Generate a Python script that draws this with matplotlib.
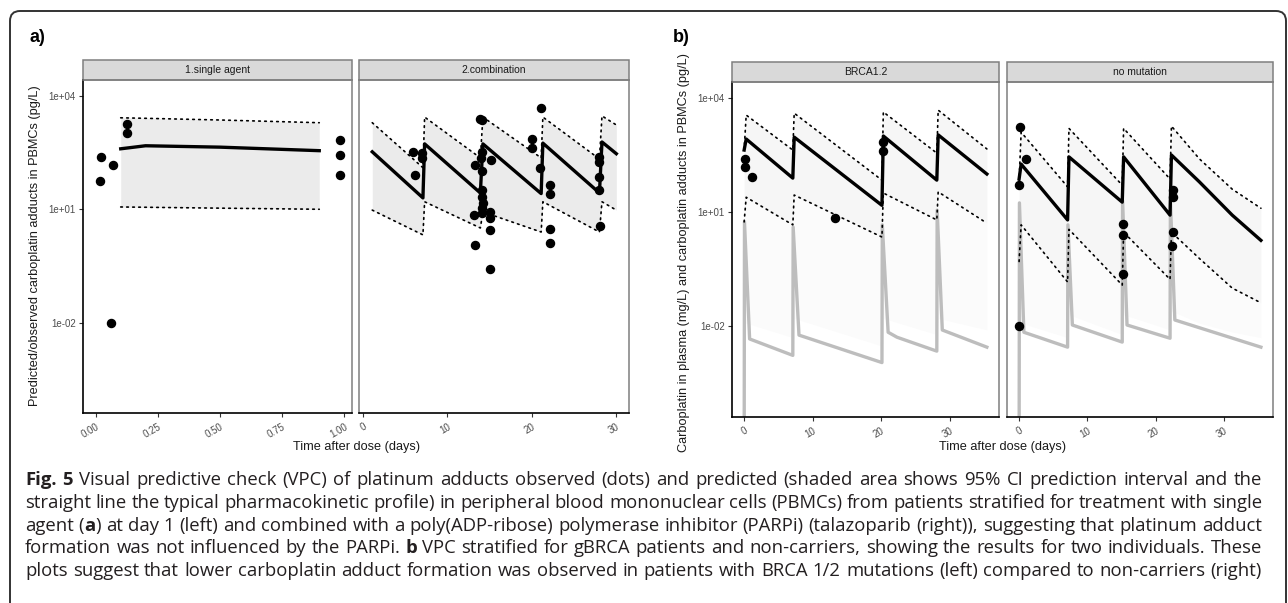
import numpy as np
import matplotlib
matplotlib.use('Agg')
import matplotlib.pyplot as plt
from matplotlib.patches import Rectangle, FancyBboxPatch
from matplotlib.ticker import NullLocator

# ---- panel a: single agent (time in days, adducts pg/L) ----
a1_obs_t = [0.02, 0.017, 0.068, 0.125, 0.125, 0.06, 0.984, 0.984, 0.984]
a1_obs_y = [245, 56, 148, 1800, 1050, 0.01, 690, 275, 81]
a1_pred_t = [0.1, 0.2, 0.5, 0.9]
a1_med = [398, 479, 440, 355]
a1_hi = [2630, 2550, 2300, 1950]
a1_lo = [11.5, 11.3, 10.7, 10.0]

# ---- panel a: combination ----
a2_pred_t = [1.1, 7.1, 7.3, 13.9, 14.2, 21.1, 21.3, 28.0, 28.3, 30.0]
a2_med = [331, 20, 537, 27, 537, 26, 562, 27, 603, 295]
a2_hi = [1950, 126, 2750, 229, 2750, 229, 2750, 214, 2950, 1700]
a2_lo = [9.5, 2.1, 15.8, 3.2, 8.5, 2.5, 15.8, 2.5, 15.8, 9.5]
a2_obs_t = [5.9, 6.2, 7.0, 7.0, 13.3, 13.1, 13.3, 13.9, 14.1, 14.1, 14.0, 14.1,
            14.1, 14.1, 14.2, 14.1, 14.1, 15.2, 15.1, 15.1, 15.1, 15.0, 21.1,
            20.0, 20.0, 21.0, 22.2, 22.2, 22.2, 22.1, 28.0, 28.0, 28.0, 27.9, 28.1]
a2_obs_y = [331, 81, 309, 229, 148, 7.1, 1.15, 2455, 2344, 331, 229, 100,
            32, 21, 15, 11, 7.9, 204, 8.5, 5.9, 2.9, 0.26, 4790,
            724, 417, 126, 45, 26, 3.0, 1.3, 245, 178, 72, 32, 3.6]

# ---- panel b: BRCA1.2 ----
b1_pred_t = [0.0, 0.3, 7.1, 7.3, 20.1, 20.3, 28.1, 28.3, 35.4]
b1_med = [427, 832, 78, 933, 15, 1000, 69, 1070, 100]
b1_hi = [427, 3550, 427, 3980, 69, 4270, 355, 4790, 457]
b1_lo = [5.5, 24.5, 4.6, 28, 2.2, 31.6, 6.2, 33.9, 5.1]
b1_haze = [0.012, 0.012, 0.005, 0.016, 0.003, 0.016, 0.006, 0.016, 0.008]
b1_pl_t = [0.0, 0.05, 0.8, 7.1, 7.15, 8.0, 20.1, 20.15, 21.0, 22.3, 28.1, 28.15, 28.9, 35.4]
b1_pl = [1e-6, 5.5, 0.0046, 0.0017, 4.0, 0.0058, 0.0011, 4.6, 0.0069, 0.0051,
         0.0022, 11.2, 0.0079, 0.0028]
b1_obs_t = [0.1, 0.1, 1.1, 13.2, 20.3, 20.3]
b1_obs_y = [245, 151, 83, 6.9, 692, 398]

# ---- panel b: no mutation ----
b2_pred_t = [0.0, 0.3, 7.1, 7.3, 15.1, 15.3, 22.1, 22.3, 26.4, 31.2, 35.4]
b2_med = [74, 182, 6.2, 282, 18.2, 282, 8.3, 316, 62, 8.3, 1.8]
b2_hi = [63, 1260, 46, 1585, 51, 1585, 74, 1820, 250, 40, 12.6]
b2_lo = [0.5, 4.6, 0.145, 3.5, 0.12, 2.95, 0.17, 2.95, 0.6, 0.1, 0.041]
b2_haze = [0.01, 0.012, 0.005, 0.02, 0.006, 0.02, 0.008, 0.025, 0.012, 0.007, 0.005]
b2_pl_t = [0.0, 0.05, 0.7, 7.1, 7.15, 7.8, 15.1, 15.15, 15.8, 22.1, 22.15, 22.8, 35.4]
b2_pl = [1e-6, 17.4, 0.0069, 0.0028, 4.6, 0.0107, 0.0038, 20, 0.0107, 0.0048,
         20, 0.0145, 0.0028]
b2_obs_t = [0.1, 1.0, 0.0, 0.0, 15.2, 15.2, 15.2, 22.5, 22.5, 22.5, 22.4]
b2_obs_y = [1740, 245, 51, 0.01, 4.8, 2.45, 0.23, 38, 24.5, 2.95, 1.26]

y_ticks = [1e-2, 1e1, 1e4]
y_ticklabels = ['1e-02', '1e+01', '1e+04']

caption = [
    "**Fig. 5** Visual predictive check (VPC) of platinum adducts observed (dots) and predicted (shaded area shows 95% CI prediction interval and the",
    "straight line the typical pharmacokinetic profile) in peripheral blood mononuclear cells (PBMCs) from patients stratified for treatment with single",
    "agent (**a**) at day 1 (left) and combined with a poly(ADP-ribose) polymerase inhibitor (PARPi) (talazoparib (right)), suggesting that platinum adduct",
    "formation was not influenced by the PARPi. **b** VPC stratified for gBRCA patients and non-carriers, showing the results for two individuals. These",
    "plots suggest that lower carboplatin adduct formation was observed in patients with BRCA 1/2 mutations (left) compared to non-carriers (right)",
]

W, H = 1288, 603
plt.rcParams['font.family'] = ['Liberation Sans', 'DejaVu Sans']
fig = plt.figure(figsize=(W / 100, H / 100), dpi=100)

GREY = '#7f7f7f'
DOT = (0, (1, 2.6))


def facet(x0, y0, x1, y1, strip_top, title, xlim, xticks, xlabels, first):
    ax = fig.add_axes([x0 / W, 1 - y1 / H, (x1 - x0) / W, (y1 - y0) / H])
    ax.set_yscale('log')
    ax.set_ylim(10 ** -4.39, 10 ** 4.42)
    ax.set_xlim(xlim)
    ax.yaxis.set_minor_locator(NullLocator())
    for s in ['top', 'right', 'left']:
        ax.spines[s].set_color(GREY)
        ax.spines[s].set_linewidth(1.1)
    ax.spines['bottom'].set_color('black')
    ax.spines['bottom'].set_linewidth(1.2)
    ax.set_xticks(xticks)
    ax.set_xticklabels(xlabels, rotation=30, ha='right', va='top',
                       rotation_mode='anchor', fontsize=7, color='#4d4d4d')
    ax.tick_params(axis='x', length=3, color='#333333', pad=3)
    if first:
        ax.spines['left'].set_color('black')
        ax.spines['left'].set_linewidth(1.2)
        ax.set_yticks(y_ticks)
        ax.set_yticklabels(y_ticklabels, fontsize=7, color='#4d4d4d')
        ax.tick_params(axis='y', length=3, color='#333333', pad=2)
    else:
        ax.set_yticks([])
    sh = (y0 - strip_top) / (y1 - y0)
    ax.add_patch(Rectangle((0, 1), 1, sh, transform=ax.transAxes, clip_on=False,
                           facecolor='#d9d9d9', edgecolor=GREY, linewidth=1.1))
    ax.text(0.5, 1 + sh / 2, title, transform=ax.transAxes, ha='center',
            va='center', fontsize=7.5, color='#1a1a1a')
    return ax


def vpc(ax, t, med, hi, lo, fill):
    ax.fill_between(t, lo, hi, color=fill, lw=0, zorder=1)
    ax.plot(t, hi, color='black', lw=1.2, ls=DOT, dash_capstyle='round', zorder=3)
    ax.plot(t, lo, color='black', lw=1.2, ls=DOT, dash_capstyle='round', zorder=3)
    ax.plot(t, med, color='black', lw=2.4, zorder=4)


def points(ax, t, y):
    ax.plot(t, y, 'o', color='black', ms=5.8, zorder=5, clip_on=False)


# panel a
ax = facet(83, 80, 352, 413, 60, '1.single agent', (-0.052, 1.032),
           [0, 0.25, 0.5, 0.75, 1.0], ['0.00', '0.25', '0.50', '0.75', '1.00'], True)
vpc(ax, a1_pred_t, a1_med, a1_hi, a1_lo, '#ebebeb')
points(ax, a1_obs_t, a1_obs_y)

ax = facet(359, 80, 629, 413, 60, '2.combination', (-0.47, 31.5),
           [0, 10, 20, 30], ['0', '10', '20', '30'], False)
vpc(ax, a2_pred_t, a2_med, a2_hi, a2_lo, '#ebebeb')
points(ax, a2_obs_t, a2_obs_y)

# panel b
for (x0, x1, title, first, pt, med, hi, lo, haze, plt_t, pl, ot, oy) in [
        (732, 999, 'BRCA1.2', True, b1_pred_t, b1_med, b1_hi, b1_lo, b1_haze,
         b1_pl_t, b1_pl, b1_obs_t, b1_obs_y),
        (1007, 1273, 'no mutation', False, b2_pred_t, b2_med, b2_hi, b2_lo, b2_haze,
         b2_pl_t, b2_pl, b2_obs_t, b2_obs_y)]:
    ax = facet(x0, 82, x1, 417, 62, title, (-1.77, 37.17),
               [0, 10, 20, 30], ['0', '10', '20', '30'], first)
    ax.fill_between(pt, haze, lo, color='#fbfbfb', lw=0, zorder=0.5)
    ax.plot(plt_t, pl, color='#bdbdbd', lw=2.4, zorder=2)
    vpc(ax, pt, med, hi, lo, '#f6f6f6')
    points(ax, ot, oy)

# axis titles and panel tags
fig.text(30 / W, 1 - 37 / H, 'a)', fontsize=13, fontweight='bold', va='center')
fig.text(673 / W, 1 - 37 / H, 'b)', fontsize=13, fontweight='bold', va='center')
fig.text(35 / W, 1 - 246 / H, 'Predicted/observed carboplatin adducts in PBMCs (pg/L)',
         rotation=90, ha='center', va='center', fontsize=9.2, color='#1a1a1a')
fig.text(684 / W, 1 - 252 / H,
         'Carboplatin in plasma (mg/L) and carboplatin adducts in PBMCs (pg/L)',
         rotation=90, ha='center', va='center', fontsize=9.2, color='#1a1a1a')
fig.text(357 / W, 1 - 447 / H, 'Time after dose (days)', ha='center', va='center',
         fontsize=9.2, color='#1a1a1a')
fig.text(1003 / W, 1 - 447 / H, 'Time after dose (days)', ha='center', va='center',
         fontsize=9.2, color='#1a1a1a')

# rounded frame
fig.patches.append(FancyBboxPatch((0.10, -0.3), 12.76, 5.92 + 0.3,
                                  boxstyle='round,pad=0,rounding_size=0.1',
                                  transform=fig.dpi_scale_trans, fill=False,
                                  edgecolor='#333333', linewidth=1.4))


# justified caption
def parse(line):
    words, bold = [], False
    for w in line.split(' '):
        segs = []
        for i, p in enumerate(w.split('**')):
            if i > 0:
                bold = not bold
            if p:
                segs.append((p, bold))
        words.append(segs)
    return words


renderer = fig.canvas.get_renderer()
cap_left, cap_right = 25, 1262
baselines = [485, 508, 531, 553, 576]
cap_font = ['Open Sans', 'DejaVu Sans']


def layout(fs):
    out = []
    for line in caption:
        row = []
        for segs in parse(line):
            wobjs = []
            for txt, bold in segs:
                t = fig.text(0, 0, txt, fontsize=fs, family=cap_font,
                             fontweight='bold' if bold else 'normal',
                             color='#231f20', va='baseline', ha='left')
                wobjs.append((t, t.get_window_extent(renderer).width))
            row.append(wobjs)
        out.append(row)
    return out


fs = 14.0
while True:
    rows = layout(fs)
    gaps = []
    for row in rows:
        tot = sum(w for wobjs in row for _, w in wobjs)
        gaps.append((cap_right - cap_left - tot) / (len(row) - 1))
    if min(gaps) >= 0.24 * fs * 100 / 72 or fs < 8:
        break
    for row in rows:
        for wobjs in row:
            for t, _ in wobjs:
                t.remove()
    fs -= 0.1

for row, gap, yb in zip(rows, gaps, baselines):
    x = cap_left
    for wobjs in row:
        for t, w in wobjs:
            t.set_position((x / W, 1 - yb / H))
            x += w
        x += gap

fig.savefig('out.png', dpi=100)
